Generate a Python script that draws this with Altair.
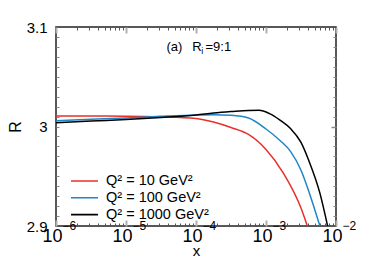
import altair as alt
import pandas as pd

FONT = "Liberation Sans"

series = ["Q² = 10 GeV²", "Q² = 100 GeV²", "Q² = 1000 GeV²"]
colors = ["#e8302a", "#1f86c6", "#000000"]

# log10(x) and R values
logx_10 = [-6, -5.5, -5, -4.5, -4, -3.75, -3.5, -3.25, -3, -2.75, -2.5, -2.41]
r_10 = [3.0105, 3.0105, 3.0104, 3.0098, 3.0081, 3.0045, 2.999, 2.992, 2.977, 2.953, 2.918, 2.9]

logx_100 = [-6, -5.5, -5, -4.5, -4, -3.75, -3.5, -3.25, -3, -2.8, -2.65, -2.5, -2.38, -2.23]
r_100 = [3.0058, 3.0072, 3.0086, 3.0102, 3.0115, 3.0118, 3.0112, 3.0085, 2.9975, 2.986, 2.975, 2.956, 2.933, 2.9]

logx_1000 = [-6, -5.5, -5, -4.5, -4, -3.75, -3.5, -3.25, -3.1, -2.95, -2.8, -2.65, -2.5, -2.39, -2.23, -2.12]
r_1000 = [3.0038, 3.0055, 3.007, 3.009, 3.0115, 3.0135, 3.015, 3.0162, 3.0163, 3.013, 3.0065, 2.998, 2.984, 2.966, 2.933, 2.9]

x_major = [1e-6, 1e-5, 1e-4, 1e-3, 1e-2]
x_exponents = ["−6", "−5", "−4", "−3", "−2"]
x_minor = [k * 10.0 ** e for e in range(-6, -2) for k in range(2, 10)]
y_major = [2.9, 3.0, 3.1]
y_minor = [2.91, 2.92, 2.93, 2.94, 2.95, 2.96, 2.97, 2.98, 2.99, 3.0,
           3.01, 3.02, 3.03, 3.04, 3.05, 3.06, 3.07, 3.08, 3.09]
y_right_major = [3.0]

rows = []
for name, lx, rv in zip(series, [logx_10, logx_100, logx_1000], [r_10, r_100, r_1000]):
    for a, b in zip(lx, rv):
        rows.append({"x": 10.0 ** a, "R": b, "series": name})
df = pd.DataFrame(rows)

xs = alt.Scale(type="log", domain=[1e-6, 1e-2], nice=False)
ys = alt.Scale(domain=[2.9, 3.1], nice=False, zero=False)

exp_expr = ""
bounds = [5e-6, 5e-5, 5e-4, 5e-3]
for b, e in zip(bounds, x_exponents[:-1]):
    exp_expr += f"datum.value < {b} ? '{e}' : "
exp_expr += f"'{x_exponents[-1]}'"


def tick_axis(orient, values, size, color, width):
    return alt.Axis(orient=orient, values=values, ticks=True, tickSize=size,
                    tickColor=color, tickWidth=width, offset=-size, domain=False,
                    labels=False, grid=False, title=None)


ax_x_main = alt.Axis(orient="bottom", values=x_major, ticks=False, tickSize=0,
                     domain=False, grid=False, labelExpr="'10'", labelAlign="right",
                     labelOffset=6, labelFontSize=18, labelPadding=1,
                     labelFlush=False, labelOverlap=False, labelBound=False,
                     title="x", titleFontSize=15, titlePadding=-2)
ax_x_exp = alt.Axis(orient="bottom", values=x_major, ticks=False, tickSize=0,
                    domain=False, grid=False, labelExpr=exp_expr, labelAlign="left",
                    labelOffset=6, labelFontSize=12, labelPadding=-6,
                    labelBaseline="top",
                    labelFlush=False, labelOverlap=False, labelBound=False, title=None)
ax_y_main = alt.Axis(orient="left", values=y_major, ticks=False, tickSize=0,
                     domain=False, grid=False, format=".1~f", labelFontSize=15,
                     labelPadding=9, labelFlush=False, labelOverlap=False,
                     title="R", titleFontSize=16, titlePadding=3)

legend = alt.Legend(orient="none", legendX=14, legendY=146, title=None,
                    symbolType="stroke", symbolSize=729, symbolStrokeWidth=1.6,
                    labelFontSize=14.5, labelOffset=7, rowPadding=0.8,
                    clipHeight=16, padding=0)

lines = alt.Chart(df).mark_line(strokeWidth=1.5, clip=True, interpolate="monotone").encode(
    x=alt.X("x:Q", scale=xs, axis=ax_x_main),
    y=alt.Y("R:Q", scale=ys, axis=ax_y_main),
    color=alt.Color("series:N", scale=alt.Scale(domain=series, range=colors), legend=legend),
)


def ghost(xaxis, yaxis):
    return alt.Chart(df).mark_point(opacity=0).encode(
        x=alt.X("x:Q", scale=xs, axis=xaxis),
        y=alt.Y("R:Q", scale=ys, axis=yaxis),
    )


g1 = ghost(ax_x_exp, tick_axis("left", y_minor, 3, "#888888", 1))
g2 = ghost(tick_axis("bottom", x_major, 6, "#b0b0b0", 2), tick_axis("right", y_minor, 3, "#888888", 1))
g3 = ghost(tick_axis("bottom", x_minor, 3, "#555555", 1), tick_axis("right", y_right_major, 5, "#888888", 1.5))
g4 = ghost(tick_axis("top", x_major, 6, "#b0b0b0", 2), None)
g5 = ghost(tick_axis("top", x_minor, 3, "#555555", 1), None)

one = pd.DataFrame({"k": [0]})


def label(text, px, py, size):
    return alt.Chart(one).mark_text(text=text, font=FONT, fontSize=size, align="left",
                                    baseline="alphabetic", color="black").encode(
        x=alt.value(px), y=alt.value(py))


ann = [
    label("(a)", 110.5, 23.7, 13),
    label("R", 136.3, 23.7, 13),
    label("i", 145.3, 26.5, 9),
    label("=9:1", 149.5, 23.7, 13),
]

chart = alt.layer(lines, g1, g2, g3, g4, g5, *ann).resolve_axis(
    x="independent", y="independent"
).properties(
    width=280, height=199,
    autosize=alt.AutoSizeParams(type="none"),
    padding={"left": 48, "top": 19, "right": 30, "bottom": 30},
).configure_view(
    stroke="#222222", strokeWidth=1.5
).configure_axis(
    labelFont=FONT, titleFont=FONT, labelColor="black", titleColor="black",
    titleFontWeight="normal"
).configure_legend(
    labelFont=FONT, labelColor="black"
)

chart.save("out.html", embed_options={"renderer": "svg", "actions": False})
